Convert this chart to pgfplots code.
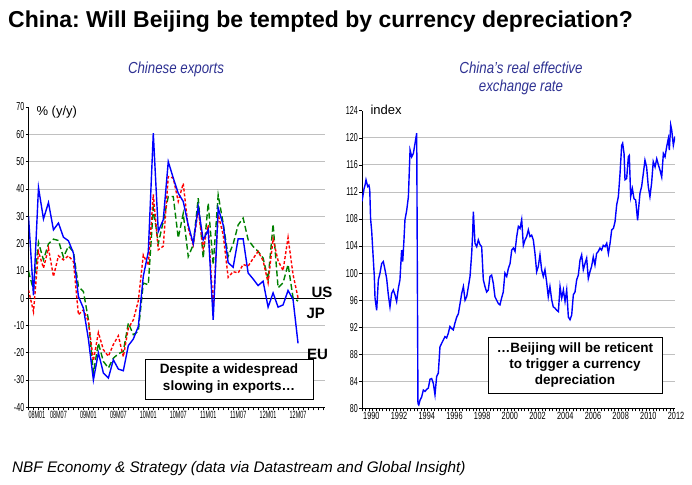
\documentclass[border=0pt]{standalone}
\usepackage{fontspec}
\setmainfont{Liberation Sans}
\newfontfamily\ynrw[FakeStretch=0.62]{Liberation Sans}
\newfontfamily\xnrw[FakeStretch=0.52]{Liberation Sans}
\newfontfamily\rnrw[FakeStretch=0.7]{Liberation Sans}
\newfontfamily\subf[FakeStretch=0.83]{Liberation Sans}
\usepackage{pgfplots}
\usepackage{pgfplotstable}
\pgfplotsset{compat=1.18}
\frenchspacing

\definecolor{navy}{RGB}{46,49,146}
\definecolor{gridgray}{RGB}{192,192,192}
\definecolor{dgreen}{RGB}{0,128,0}

% Chinese exports, % y/y; m = months since 2008M01
\pgfplotstableread{
m   eu     us     jp
0   30     3      9.8
1   1      -5     3
2   40.5   17     20.4
3   29     11     14
4   35     18.3   19.9
5   25     7.9    21.6
6   27.5   15.5   21.1
7   22.3   14     15
8   21     15.5   19
9   16.5   13.4   17
10  0.6    -6.1   4.3
11  -3.7   -4.3   2.4
12  -15    -8.5   -7.9
13  -30    -23    -27.4
14  -20    -12.6  -16.5
15  -27.4  -18.9  -23.2
16  -29.3  -21.3  -25.6
17  -22.6  -17    -22
18  -26    -13.8  -20.4
19  -26.6  -21.5  -19.5
20  -17.4  -11    -9.1
21  -15    -8     -13.4
22  -10.4  -1     -12.2
23  8      15.8   5.5
24  17     12     4.9
25  60.4   38     33
26  24.4   17.7   20
27  28.7   19     28
28  50     44.5   37.2
29  44     44     37.2
30  38.4   35.4   22
31  35.4   42     31
32  26.8   25.6   15.2
33  20     19.5   19.5
34  33.5   32.3   36.6
35  21.3   18.3   14.6
36  25     26.8   34.8
37  -8     -4     12.2
38  33     30.5   37.8
39  26.8   23.2   27.4
40  13     7.6    15.3
41  11.3   9.7    19.8
42  21.7   9.2    26.8
43  21.7   12.3   29.3
44  9.2    11.7   21.4
45  7      14.5   18.9
46  4.6    17.1   17.1
47  6.2    13.7   14.7
48  -3.3   5.6    6.8
49  1.9    21.7   27.1
50  -3.3   13.7   3.8
51  -2.5   10.1   5.6
52  2.8    22.2   12.3
53  -0.5   8.6    0.1
54  -16.6  0.1    -1.1
}\exports

% real effective exchange rate, index
\pgfplotstableread{
yr       reer
1990.00  110.6
1990.15  112.5
1990.22  113
1990.29  113.8
1990.41  112.8
1990.50  113
1990.56  112.3
1990.62  108
1990.70  106.2
1990.82  101.9
1990.89  99.5
1990.94  96.3
1991.06  94.5
1991.18  99
1991.30  100
1991.42  101.4
1991.54  101.7
1991.66  100.5
1991.78  99.2
1991.90  96.8
1992.02  95
1992.14  97
1992.26  97.5
1992.38  96.8
1992.50  95.8
1992.62  97.7
1992.74  99
1992.86  103.4
1992.94  101.7
1993.03  104.9
1993.10  107.85
1993.23  109.3
1993.35  111.3
1993.47  118.2
1993.59  117.2
1993.71  117.7
1993.83  119.2
1993.95  120.7
1994.04  80.7
1994.10  80.5
1994.19  81.2
1994.31  81.7
1994.43  82.7
1994.55  82.5
1994.67  82.8
1994.79  83
1994.91  84.3
1995.03  84.4
1995.15  83.7
1995.27  82
1995.39  84.7
1995.51  85.2
1995.63  89.1
1995.75  89.6
1995.87  90.1
1995.99  90.6
1996.11  90.4
1996.23  91.1
1996.35  92.1
1996.47  91.8
1996.59  91.6
1996.71  92.6
1996.84  93.5
1996.96  94
1997.08  95.5
1997.20  97
1997.32  98
1997.44  96
1997.56  96.5
1997.68  98
1997.80  99.5
1997.92  102.9
1997.99  105.9
1998.04  109.1
1998.16  104.4
1998.28  103.9
1998.40  104.9
1998.52  104.2
1998.64  103.9
1998.76  99
1998.88  98
1999.00  97.2
1999.12  97.5
1999.24  99.5
1999.36  99.7
1999.48  98.5
1999.60  96.5
1999.72  96
1999.84  95.5
1999.96  95.3
2000.08  96.3
2000.20  97.2
2000.32  100
2000.45  99.5
2000.57  100.7
2000.69  101.4
2000.81  103.4
2000.93  103.7
2001.05  103.2
2001.17  105.4
2001.29  106.9
2001.41  106.6
2001.53  107.9
2001.65  104.1
2001.77  104.9
2001.89  105.4
2002.01  106.4
2002.13  105.4
2002.25  105.6
2002.37  104.9
2002.49  102.9
2002.61  100.2
2002.73  101
2002.85  102.7
2002.97  100.5
2003.09  99.5
2003.21  100.5
2003.33  98.7
2003.45  96.5
2003.57  98
2003.70  96
2003.81  95
2003.94  94.8
2004.06  94.5
2004.18  94.3
2004.30  98
2004.42  96.3
2004.54  97.5
2004.66  95.8
2004.78  97.5
2004.90  93.5
2005.02  93.1
2005.14  93.8
2005.26  96.8
2005.38  97.2
2005.50  99
2005.62  99.7
2005.74  101.9
2005.86  102.7
2005.98  100.5
2006.10  101.4
2006.22  102.2
2006.34  99.2
2006.46  100.2
2006.58  101
2006.70  102.4
2006.82  101.2
2006.94  102.9
2007.06  103.2
2007.18  103.7
2007.30  103.4
2007.42  104.1
2007.55  103.9
2007.67  104.4
2007.79  102.9
2007.91  104.4
2008.03  106.4
2008.15  106.6
2008.27  107.6
2008.39  110.1
2008.51  111.3
2008.63  114.7
2008.75  118.9
2008.82  119.2
2008.92  117.7
2008.99  113.8
2009.11  114
2009.23  117.2
2009.30  117.4
2009.40  111.3
2009.52  112.5
2009.64  111
2009.76  110.8
2009.90  107.8
2010.07  111.8
2010.19  112.8
2010.31  114.7
2010.43  116.7
2010.55  115.7
2010.67  112.8
2010.79  111.3
2010.91  113.3
2011.03  116.5
2011.16  115.7
2011.28  116.9
2011.40  116
2011.52  115.2
2011.64  114.2
2011.76  117.7
2011.88  117.2
2012.00  118.7
2012.12  119.9
2012.19  118.2
2012.29  121.9
2012.36  121.2
2012.48  118.9
2012.60  120.2
}\reer

\pgfplotsset{
  nbf/.style={
    scale only axis,
    anchor=south west,
    axis x line*=bottom,
    axis y line*=left,
    axis line style={-, black, line width=0.9bp},
    tick style={black, line width=0.6bp},
    major tick length=3bp,
    minor tick length=3bp,
    tick align=outside,
    ymajorgrids,
    major grid style={gridgray, line width=0.8bp},
    extra y tick style={grid=none},
    /pgf/number format/assume math mode=true,
    /pgf/number format/1000 sep={},
    yticklabel style={font=\ynrw\fontsize{11.5bp}{13bp}\selectfont, inner sep=1bp},
  },
}

\begin{document}
\begin{tikzpicture}
\useasboundingbox (0,0) rectangle (692bp,485bp);

\node[anchor=base west, inner sep=0pt, font=\bfseries\fontsize{23bp}{27bp}\selectfont] at (8bp,457bp)
  {China: Will Beijing be tempted by currency depreciation?};
\node[anchor=base, text=navy, font=\subf\itshape\fontsize{16bp}{18bp}\selectfont] at (176bp,411bp)
  {Chinese exports};
\node[anchor=base, text=navy, font=\subf\itshape\fontsize{16bp}{18bp}\selectfont] at (521bp,411bp)
  {China’s real effective};
\node[anchor=base, text=navy, font=\subf\itshape\fontsize{16bp}{18bp}\selectfont] at (521bp,393bp)
  {exchange rate};
\node[anchor=base west, inner sep=0pt, font=\itshape\fontsize{15.3bp}{18bp}\selectfont] at (12bp,13bp)
  {NBF Economy \& Strategy (data via Datastream and Global Insight)};

% left panel
\begin{axis}[nbf,
  at={(28.5bp,77.7bp)}, width=296.5bp, height=300.3bp,
  xmin=0, xmax=59.4, ymin=-40, ymax=70,
  ytick={-40,-30,...,60}, extra y ticks={70},
  xtick={0,6,...,54},
  xticklabels={\makebox[0pt][l]{08M01},08M07,09M01,09M07,10M01,10M07,11M01,11M07,12M01,12M07},
  minor xtick={0,1,...,59},
  xticklabel style={font=\xnrw\fontsize{10.5bp}{12bp}\selectfont, inner sep=1bp},
]
\addplot[black, line width=0.9bp] coordinates {(0,0) (59.4,0)};
\addplot[dgreen, line width=1.4bp, dash pattern=on 6bp off 3bp] table[x=m, y=jp] {\exports};
\addplot[red, line width=1.4bp, dash pattern=on 3bp off 2bp] table[x=m, y=us] {\exports};
\addplot[blue, line width=1.4bp] table[x=m, y=eu] {\exports};
\end{axis}
\node[anchor=base west, font=\fontsize{13bp}{15bp}\selectfont] at (33bp,369bp) {\% (y/y)};
\node[anchor=base west, font=\bfseries\fontsize{15bp}{17bp}\selectfont] at (308bp,187.5bp) {US};
\node[anchor=base west, font=\bfseries\fontsize{15bp}{17bp}\selectfont] at (303bp,166.7bp) {JP};
\node[anchor=base west, font=\bfseries\fontsize{15bp}{17bp}\selectfont] at (303.5bp,125bp) {EU};
\node[draw=black, line width=0.9bp, fill=white, minimum width=168bp, minimum height=40bp,
  align=center, font=\bfseries\fontsize{13.5bp}{17bp}\selectfont] at (229bp,106bp)
  {Despite a widespread\\slowing in exports…};

% right panel
\begin{axis}[nbf,
  at={(362bp,76.7bp)}, width=313bp, height=297.5bp,
  xmin=1990, xmax=2012.6, ymin=80, ymax=124,
  ytick={80,84,...,120}, extra y ticks={124},
  xtick={1990,1992,...,2012},
  minor xtick={1990,1990.25,...,2012.5},
  xticklabel style={font=\rnrw\fontsize{10.5bp}{12bp}\selectfont, inner sep=1bp, anchor=north west},
]
\addplot[blue, line width=1.4bp] table[x=yr, y=reer] {\reer};
\end{axis}
\node[anchor=base west, font=\fontsize{13bp}{15bp}\selectfont] at (367bp,370bp) {index};
\node[draw=black, line width=0.9bp, fill=white, minimum width=174bp, minimum height=56bp,
  align=center, font=\bfseries\fontsize{13.5bp}{16bp}\selectfont] at (575bp,120bp)
  {…Beijing will be reticent\\to trigger a currency\\depreciation};
\end{tikzpicture}
\end{document}
